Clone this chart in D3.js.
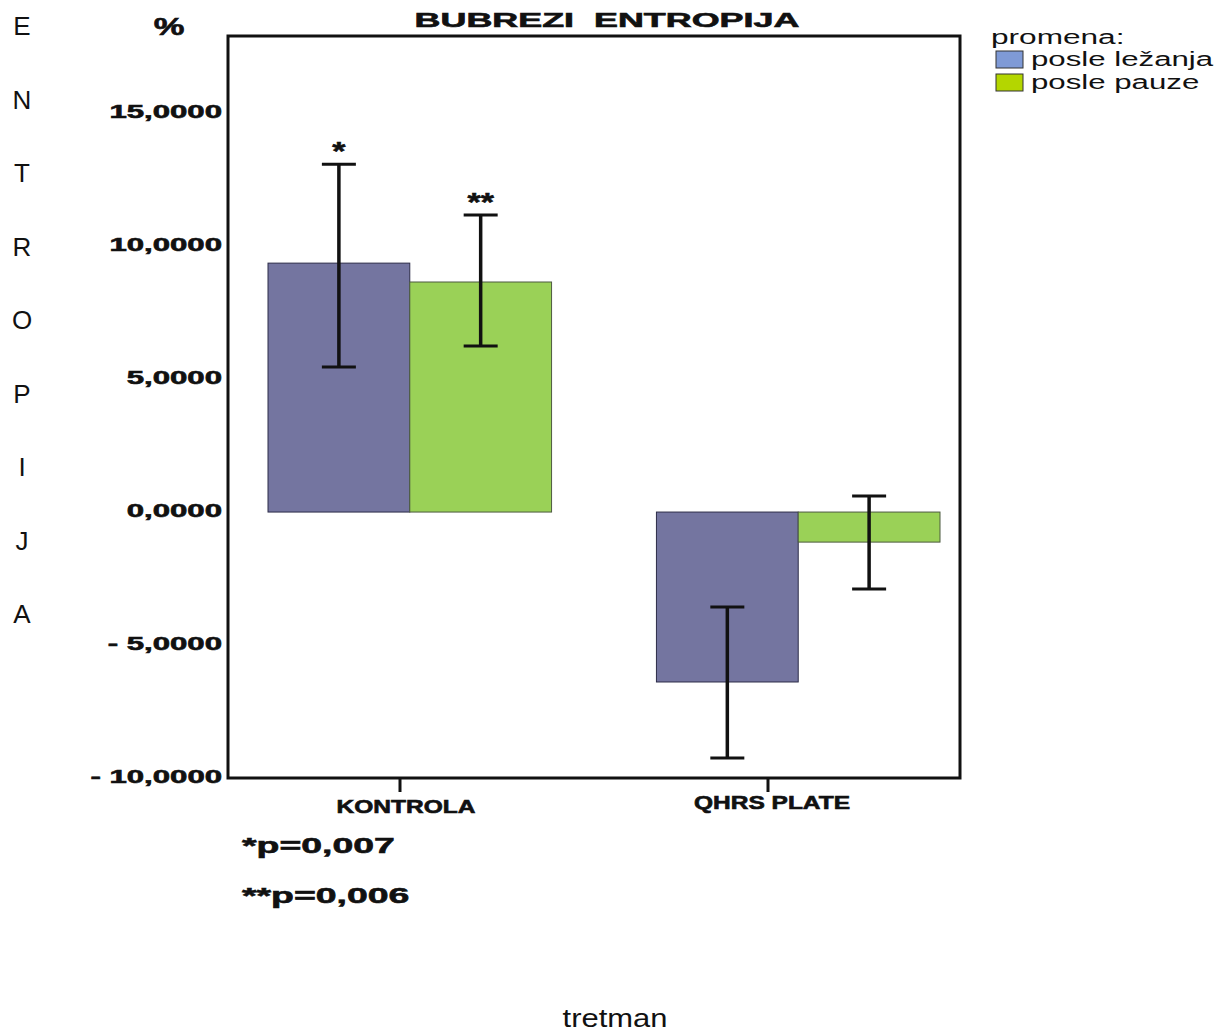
<!DOCTYPE html>
<html>
<head>
<meta charset="utf-8">
<script src="https://cdn.jsdelivr.net/npm/d3@7"></script>
<style>
  html, body { margin: 0; padding: 0; background: #fff; }
  svg { display: block; }
  text { font-family: "Liberation Sans", Arial, Helvetica, sans-serif; fill: #111; }
  text.heavy { stroke: #111; stroke-width: 0.6px; }
</style>
</head>
<body>
<svg id="chart" width="1227" height="1032"></svg>
<script>
// ---------- DATA ----------
const categories = ["KONTROLA", "QHRS PLATE"];
const seriesNames = ["posle ležanja", "posle pauze"];
const meanLezanja = [9.36, -6.39];
const meanPauze = [8.65, -1.13];
const errHighLezanja = [13.08, -3.57];
const errLowLezanja = [5.45, -9.25];
const errHighPauze = [11.17, 0.60];
const errLowPauze = [6.24, -2.89];
const yTickValues = [15, 10, 5, 0, -5, -10];
const yTickLabels = ["15,0000", "10,0000", "5,0000", "0,0000", "- 5,0000", "- 10,0000"];
const significanceMarks = [
  { category: "KONTROLA", series: "posle ležanja", mark: "*" },
  { category: "KONTROLA", series: "posle pauze", mark: "**" }
];
const pNotes = ["*p=0,007", "**p=0,006"];
const yTitleLetters = ["E", "N", "T", "R", "O", "P", "I", "J", "A"];
const chartTitle = "BUBREZI  ENTROPIJA";
const unitLabel = "%";
const xTitle = "tretman";
const legendTitle = "promena:";

// ---------- STYLE ----------
const barColors = { "posle ležanja": "#7475a0", "posle pauze": "#9ad157" };
const barStrokes = { "posle ležanja": "#2c2c48", "posle pauze": "#4d5a40" };
const legendColors = { "posle ležanja": "#7f9ad6", "posle pauze": "#b4d600" };

const svg = d3.select("#chart");

function stretch(sel, f) {
  sel.each(function () {
    const w = this.getComputedTextLength();
    this.setAttribute("textLength", w * f);
    this.setAttribute("lengthAdjust", "spacingAndGlyphs");
  });
}

const frame = { left: 228, right: 960, top: 36, bottom: 778 };

const y = d3.scaleLinear().domain([-10, 17.9]).range([frame.bottom, frame.top]);
const x0 = d3.scaleBand().domain(categories).range([268, 940]).paddingInner(0.27).paddingOuter(0);
const x1 = d3.scaleBand().domain(seriesNames).range([0, x0.bandwidth()]).padding(0);
const xAxisScale = d3.scaleBand().domain(categories).range([216, 952]);

// rows
const rows = [];
categories.forEach((c, i) => {
  rows.push({ category: c, series: seriesNames[0], mean: meanLezanja[i], hi: errHighLezanja[i], lo: errLowLezanja[i] });
  rows.push({ category: c, series: seriesNames[1], mean: meanPauze[i], hi: errHighPauze[i], lo: errLowPauze[i] });
});

// frame
svg.append("rect")
  .attr("x", frame.left).attr("y", frame.top)
  .attr("width", frame.right - frame.left).attr("height", frame.bottom - frame.top)
  .attr("fill", "none").attr("stroke", "#111").attr("stroke-width", 3);

// bars
svg.append("g").selectAll("rect").data(rows).join("rect")
  .attr("x", d => x0(d.category) + x1(d.series))
  .attr("width", x1.bandwidth())
  .attr("y", d => y(Math.max(0, d.mean)))
  .attr("height", d => Math.abs(y(d.mean) - y(0)))
  .attr("fill", d => barColors[d.series])
  .attr("stroke", d => barStrokes[d.series])
  .attr("stroke-width", 1);

// error bars
const eb = svg.append("g").attr("stroke", "#111");
const cx = d => x0(d.category) + x1(d.series) + x1.bandwidth() / 2;
eb.selectAll("line.v").data(rows).join("line").attr("class", "v")
  .attr("x1", cx).attr("x2", cx)
  .attr("y1", d => y(d.hi)).attr("y2", d => y(d.lo))
  .attr("stroke-width", 3.5);
eb.selectAll("line.t").data(rows).join("line").attr("class", "t")
  .attr("x1", d => cx(d) - 17).attr("x2", d => cx(d) + 17)
  .attr("y1", d => y(d.hi)).attr("y2", d => y(d.hi))
  .attr("stroke-width", 3);
eb.selectAll("line.b").data(rows).join("line").attr("class", "b")
  .attr("x1", d => cx(d) - 17).attr("x2", d => cx(d) + 17)
  .attr("y1", d => y(d.lo)).attr("y2", d => y(d.lo))
  .attr("stroke-width", 3);

// significance asterisks
const sig = svg.append("g").selectAll("text").data(significanceMarks).join("text")
  .attr("class", "heavy")
  .attr("x", d => x0(d.category) + x1(d.series) + x1.bandwidth() / 2)
  .attr("y", d => {
    const r = rows.find(r => r.category === d.category && r.series === d.series);
    return y(r.hi) - 4;
  })
  .attr("text-anchor", "middle")
  .attr("font-size", 26).attr("font-weight", "bold")
  .text(d => d.mark);
stretch(sig, 1.3);

// y axis
const yAxis = svg.append("g")
  .attr("transform", `translate(${frame.left},0)`)
  .call(d3.axisLeft(y).tickValues(yTickValues).tickFormat((d, i) => yTickLabels[i]).tickSize(0).tickPadding(6));
yAxis.select(".domain").remove();
const yLabels = yAxis.selectAll("text")
  .attr("class", "heavy")
  .attr("font-size", 18).attr("font-weight", "bold")
  .attr("font-family", "Liberation Sans, Arial, sans-serif")
  .attr("fill", "#111").attr("dy", "0.25em")
  .style("white-space", "pre");
stretch(yLabels, 1.73);

// x axis
const xAxis = svg.append("g")
  .attr("transform", `translate(0,${frame.bottom})`)
  .call(d3.axisBottom(xAxisScale).tickSize(14).tickSizeOuter(0).tickPadding(8));
xAxis.select(".domain").remove();
xAxis.selectAll(".tick line").attr("stroke", "#111").attr("stroke-width", 3);
const xLabelOffsets = [{ dx: 6, y: 35 }, { dx: 4, y: 31 }];
const xLabels = xAxis.selectAll(".tick text")
  .attr("class", "heavy")
  .attr("font-size", 17.5).attr("font-weight", "bold")
  .attr("font-family", "Liberation Sans, Arial, sans-serif")
  .attr("fill", "#111")
  .attr("dy", null)
  .attr("x", (d, i) => xLabelOffsets[i].dx)
  .attr("y", (d, i) => xLabelOffsets[i].y);
stretch(xLabels, 1.4);

// title
const title = svg.append("text")
  .attr("class", "heavy")
  .attr("x", 607).attr("y", 27)
  .attr("text-anchor", "middle")
  .attr("font-size", 19.5).attr("font-weight", "bold")
  .style("white-space", "pre")
  .text(chartTitle);
stretch(title, 1.84);

// unit label
const unit = svg.append("text")
  .attr("class", "heavy")
  .attr("x", 169).attr("y", 35)
  .attr("text-anchor", "middle")
  .attr("font-size", 23).attr("font-weight", "bold")
  .text(unitLabel);
stretch(unit, 1.5);

// vertical letter y-title
svg.append("g").selectAll("text").data(yTitleLetters).join("text")
  .attr("x", 22).attr("y", (d, i) => 35 + i * 73.5)
  .attr("text-anchor", "middle")
  .attr("font-size", 26)
  .text(d => d);

// x title
const xt = svg.append("text")
  .attr("x", 615).attr("y", 1027)
  .attr("text-anchor", "middle")
  .attr("font-size", 26)
  .text(xTitle);
stretch(xt, 1.19);

// p notes
const pn = svg.append("g").selectAll("text").data(pNotes).join("text")
  .attr("class", "heavy")
  .attr("x", 242).attr("y", (d, i) => 853 + i * 50)
  .attr("font-size", 22).attr("font-weight", "bold")
  .text(d => d);
stretch(pn, 1.7);

// legend
const lg = svg.append("g");
const lt = lg.append("text").attr("x", 991).attr("y", 44).attr("font-size", 19.5).text(legendTitle);
stretch(lt, 1.62);
const items = lg.selectAll("g.item").data(seriesNames).join("g").attr("class", "item")
  .attr("transform", (d, i) => `translate(0,${i * 23})`);
items.append("rect")
  .attr("x", 996).attr("y", 51).attr("width", 27).attr("height", 17)
  .attr("fill", d => legendColors[d]).attr("stroke", "#333").attr("stroke-width", 1);
const itx = items.append("text").attr("x", 1031).attr("y", 66).attr("font-size", 19.5).text(d => d);
stretch(itx, 1.6);
</script>
</body>
</html>
